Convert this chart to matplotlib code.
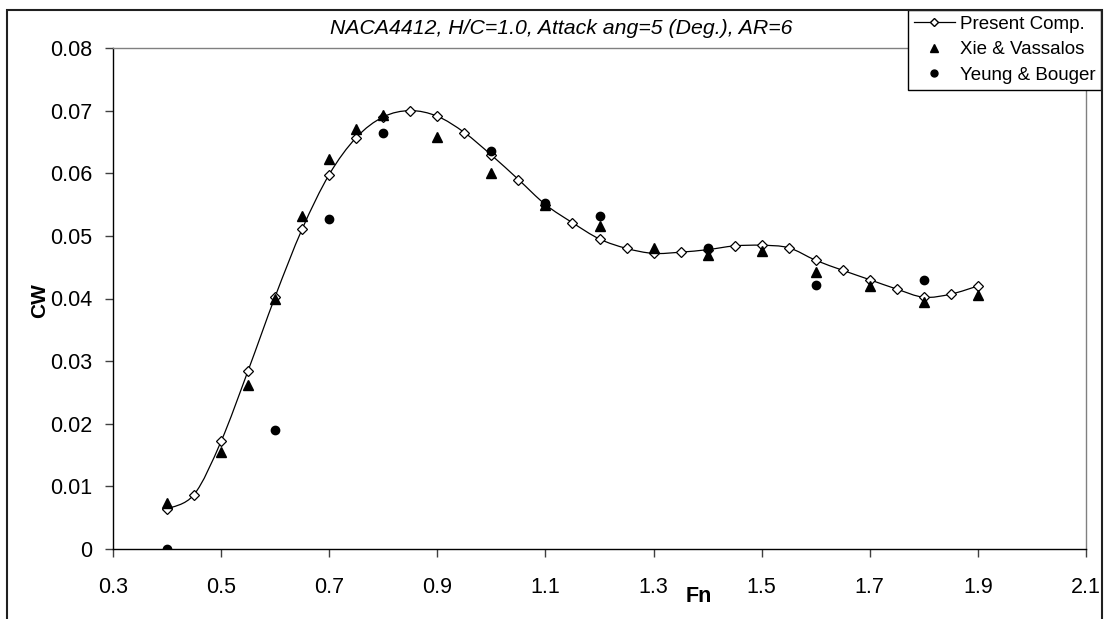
import matplotlib
matplotlib.use("Agg")
import matplotlib.pyplot as plt
import numpy as np
from matplotlib.path import Path
from matplotlib.patches import PathPatch, Rectangle

plt.rcParams['font.family'] = ['Liberation Sans', 'DejaVu Sans']

# Present computation (smoothed line with open diamonds)
fn_comp = [0.40, 0.45, 0.50, 0.55, 0.60, 0.65, 0.70, 0.75, 0.80, 0.85,
           0.90, 0.95, 1.00, 1.05, 1.10, 1.15, 1.20, 1.25, 1.30, 1.35,
           1.40, 1.45, 1.50, 1.55, 1.60, 1.65, 1.70, 1.75, 1.80, 1.85, 1.90]
cw_comp = [0.0064, 0.0087, 0.0172, 0.0285, 0.0403, 0.0511, 0.0598, 0.0657, 0.0690, 0.0700,
           0.0691, 0.0665, 0.0629, 0.0590, 0.0550, 0.0521, 0.0495, 0.0480, 0.0472, 0.0474,
           0.0478, 0.0484, 0.0485, 0.0481, 0.0461, 0.0445, 0.0430, 0.0415, 0.0402, 0.0407, 0.0420]

# Xie & Vassalos
fn_xie = [0.4, 0.5, 0.55, 0.6, 0.65, 0.7, 0.75, 0.8, 0.9, 1.0,
          1.1, 1.2, 1.3, 1.4, 1.5, 1.6, 1.7, 1.8, 1.9]
cw_xie = [0.0074, 0.0155, 0.0262, 0.0400, 0.0531, 0.0623, 0.0671, 0.0693, 0.0658, 0.0601,
          0.0550, 0.0515, 0.0481, 0.0470, 0.0476, 0.0442, 0.0420, 0.0394, 0.0406]

# Yeung & Bouger
fn_yeung = [0.4, 0.6, 0.7, 0.8, 1.0, 1.1, 1.2, 1.4, 1.6, 1.8]
cw_yeung = [0.0, 0.0190, 0.0527, 0.0664, 0.0636, 0.0553, 0.0532, 0.0480, 0.0421, 0.0430]

x_ticks = [0.3, 0.5, 0.7, 0.9, 1.1, 1.3, 1.5, 1.7, 1.9, 2.1]
y_ticks = [0, 0.01, 0.02, 0.03, 0.04, 0.05, 0.06, 0.07, 0.08]


def smooth_path(xs, ys):
    # cardinal spline through the points, written as cubic Bezier segments
    p = np.column_stack([xs, ys])
    ext = np.vstack([p[0], p, p[-1]])
    verts = [p[0]]
    codes = [Path.MOVETO]
    for i in range(len(p) - 1):
        p0, p1, p2, p3 = ext[i], ext[i + 1], ext[i + 2], ext[i + 3]
        c1 = p1 + (p2 - p0) / 6.0
        c2 = p2 - (p3 - p1) / 6.0
        verts += [c1, c2, p2]
        codes += [Path.CURVE4] * 3
    return Path(verts, codes)


W, H = 1105, 619
fig = plt.figure(figsize=(W / 100, H / 100), dpi=100)
ax = fig.add_axes([113 / W, 1 - 549 / H, 973 / W, 501 / H])

ax.add_patch(PathPatch(smooth_path(fn_comp, cw_comp), facecolor='none',
                       edgecolor='black', lw=0.9, zorder=2))
ax.plot(fn_comp, cw_comp, linestyle='none', marker='D', markersize=5,
        markerfacecolor='white', markeredgecolor='black', markeredgewidth=0.9, zorder=3)
ax.plot(fn_xie, cw_xie, linestyle='none', marker='^', markersize=7.5,
        color='black', zorder=4)
ax.plot(fn_yeung, cw_yeung, linestyle='none', marker='o', markersize=6,
        color='black', zorder=4)

# legend proxies
h1, = ax.plot([], [], color='black', lw=0.9, marker='D', markersize=4,
              markerfacecolor='white', markeredgecolor='black', label='Present Comp.')
h2, = ax.plot([], [], linestyle='none', marker='^', markersize=6, color='black',
              label='Xie & Vassalos')
h3, = ax.plot([], [], linestyle='none', marker='o', markersize=5, color='black',
              label='Yeung & Bouger')

ax.set_xlim(0.3, 2.1)
ax.set_ylim(0, 0.08)
ax.set_xticks(x_ticks)
ax.set_xticklabels([f"{t:g}" for t in x_ticks])
ax.set_yticks(y_ticks)
ax.set_yticklabels([f"{t:g}" for t in y_ticks])
ax.tick_params(direction='out', length=6, width=1, color='#404040', labelsize=15.5)
ax.tick_params(axis='x', pad=14)
ax.tick_params(axis='y', pad=9)

ax.spines['left'].set_color('black')
ax.spines['bottom'].set_color('black')
ax.spines['top'].set_color('#808080')
ax.spines['right'].set_color('#808080')
for s in ax.spines.values():
    s.set_linewidth(1.0)

fig.text(561 / W, 1 - 28 / H, 'NACA4412, H/C=1.0, Attack ang=5 (Deg.), AR=6',
         style='italic', fontsize=15.3, ha='center', va='center')
fig.text(40 / W, 1 - 301 / H, 'CW', fontweight='bold', fontsize=15,
         rotation=90, ha='center', va='center')
fig.text(699 / W, 1 - 597 / H, 'Fn', fontweight='bold', fontsize=15.5,
         ha='center', va='center')

leg = ax.legend(handles=[h1, h2, h3], loc='upper right',
                bbox_to_anchor=(1101 / W, 1 - 10 / H), bbox_transform=fig.transFigure,
                fontsize=13.5, frameon=True, fancybox=False, framealpha=1,
                edgecolor='black', borderpad=0.3, labelspacing=0.45,
                handlelength=2.2, handletextpad=0.25, borderaxespad=0)
leg.get_frame().set_linewidth(1.0)

# outer chart border
fig.patches.append(Rectangle((7 / W, -0.05), (1102 - 7) / W, 1.05 - 10 / H,
                             transform=fig.transFigure, fill=False,
                             edgecolor='#202020', lw=1.5, figure=fig))

fig.savefig('out.png', dpi=100)
